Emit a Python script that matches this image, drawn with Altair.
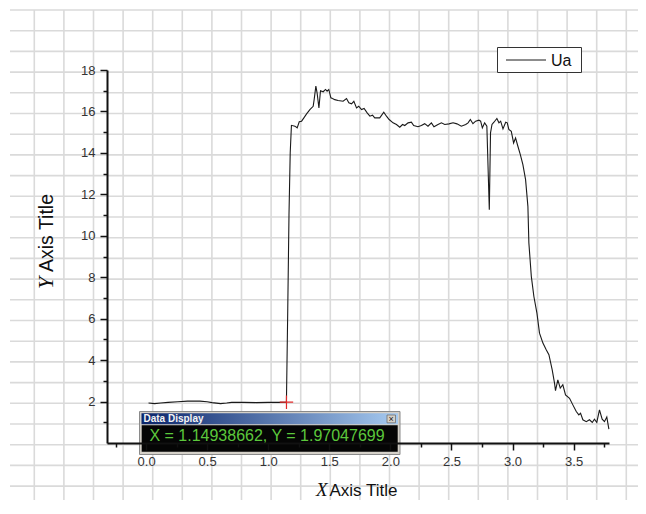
import altair as alt
import pandas as pd

# ---------------- data ----------------
series_name = "Ua"
x_vals = [0.02, 0.07, 0.12, 0.18, 0.26, 0.34, 0.44, 0.50, 0.54, 0.61, 0.66, 0.70, 0.80, 0.90, 1.00, 1.10, 1.149,
          1.16, 1.17, 1.18, 1.19,
          1.218, 1.237, 1.254, 1.273, 1.292, 1.314, 1.341, 1.368, 1.376, 1.39, 1.40, 1.415, 1.428, 1.45, 1.469,
          1.482, 1.496, 1.513, 1.526, 1.545, 1.572, 1.613, 1.641, 1.66, 1.682, 1.701, 1.723, 1.741, 1.764, 1.785,
          1.81, 1.832, 1.854, 1.872, 1.913, 1.946, 1.968, 1.99, 2.022, 2.05, 2.077, 2.10, 2.118, 2.145, 2.172,
          2.191, 2.226, 2.254, 2.281, 2.308, 2.336, 2.357, 2.39, 2.418, 2.445, 2.48, 2.513, 2.545, 2.581, 2.617,
          2.636, 2.655, 2.676, 2.698, 2.725, 2.739, 2.753, 2.772, 2.79, 2.81, 2.82, 2.832, 2.848, 2.872, 2.889,
          2.903, 2.922, 2.944, 2.957, 2.97, 2.99, 3.009, 3.025, 3.044, 3.064, 3.085, 3.107, 3.126, 3.134, 3.154,
          3.175, 3.2, 3.221, 3.249, 3.276, 3.298, 3.325, 3.344, 3.352, 3.371, 3.391, 3.412, 3.434, 3.467, 3.494,
          3.522, 3.543, 3.557, 3.576, 3.604, 3.63, 3.653, 3.671, 3.69, 3.712, 3.734, 3.753, 3.772, 3.789]
y_vals = [1.93, 1.90, 1.93, 1.96, 1.99, 2.02, 2.02, 1.99, 1.95, 1.90, 1.93, 1.96, 1.96, 1.95, 1.96, 1.96, 1.97,
          6.5, 11.0, 14.0, 15.33,
          15.29, 15.21, 15.5, 15.53, 15.69, 15.88, 16.09, 16.25, 16.57, 17.22, 16.9, 16.17, 17.0, 16.95, 17.06,
          16.98, 17.06, 16.66, 16.62, 16.57, 16.53, 16.49, 16.62, 16.42, 16.37, 16.49, 16.17, 16.25, 16.09, 16.14,
          15.93, 15.77, 15.82, 15.69, 15.69, 15.96, 15.77, 15.61, 15.45, 15.37, 15.24, 15.37, 15.32, 15.45, 15.48,
          15.32, 15.26, 15.32, 15.41, 15.29, 15.45, 15.26, 15.37, 15.45, 15.37, 15.4, 15.45, 15.4, 15.29, 15.37,
          15.45, 15.61, 15.41, 15.53, 15.58, 15.53, 15.21, 15.45, 15.29, 11.26, 14.97, 15.37, 15.48, 15.66, 15.45,
          15.53, 15.16, 15.48, 15.45, 15.13, 15.04, 14.48, 14.72, 14.32, 13.92, 13.43, 12.71, 11.42, 9.65, 8.04,
          7.07, 6.27, 5.30, 4.82, 4.50, 4.26, 3.53, 2.89, 2.53, 3.05, 2.65, 2.81, 2.32, 2.16, 1.84,
          1.52, 1.36, 1.44, 1.12, 1.03, 1.12, 0.99, 1.15, 0.99, 1.60, 1.15, 1.03, 1.25, 0.67]
cursor_x = 1.14938662
cursor_y = 1.97047699
x_tick_values = [-0.25, 0.0, 0.25, 0.5, 0.75, 1.0, 1.25, 1.5, 1.75, 2.0, 2.25, 2.5, 2.75, 3.0, 3.25, 3.5, 3.75]
y_tick_values = [1, 2, 3, 4, 5, 6, 7, 8, 9, 10, 11, 12, 13, 14, 15, 16, 17, 18]
x_title_parts = ["X", "Axis Title"]
y_title_parts = ["Y", "Axis Title"]
display_title = "Data Display"

df = pd.DataFrame({"x": x_vals, "y": y_vals, "series": series_name})

# ---------------- layout ----------------
W, H = 502, 373
PL, PT, PR, PB = 99, 62, 29, 57
OX, OY = 8 + PL, 8 + PT          # page position of the plot origin
SANS = "Liberation Sans"
SERIF = "Liberation Serif"

x_scale = alt.Scale(domain=[-0.32, 3.79], nice=False, zero=False)
y_scale = alt.Scale(domain=[0, 18], nice=False, zero=False)

x_axis = alt.Axis(
    values=x_tick_values, title=None, grid=False, zindex=1,
    labelExpr="abs(datum.value % 0.5) < 1e-9 ? format(datum.value, '.1f') : ''",
    domainColor="#111111", domainWidth=2, tickColor="#111111", tickWidth=1.5,
    tickSize={"condition": {"test": "abs(datum.value % 0.5) < 1e-9", "value": 7}, "value": 4},
    labelFont=SANS, labelFontSize=13, labelColor="#333333", labelPadding=5,
    labelOverlap=False, labelFlush=False,
)
y_axis = alt.Axis(
    values=y_tick_values, title=None, grid=False, zindex=1,
    labelExpr="datum.value % 2 === 0 ? datum.label : ''",
    domainColor="#111111", domainWidth=2, tickColor="#111111", tickWidth=1.5,
    tickSize={"condition": {"test": "datum.value % 2 === 0", "value": 7}, "value": 4},
    labelFont=SANS, labelFontSize=13, labelColor="#333333", labelPadding=5,
    labelOverlap=False, labelFlush=False,
)

one = alt.Data(values=[{}])

# page grid in the background (decoration, pixel positions)
vgrid = pd.DataFrame({"px": [34.3 + 29.6 * k - OX for k in range(21)]})
hgrid = pd.DataFrame({"py": [10 + 20.7 * k - OY for k in range(25)]})
grid_v = alt.Chart(vgrid).mark_rule(color="#dadada", strokeWidth=1.6).encode(
    x=alt.X("px:Q", scale=None, axis=None), y=alt.value(10 - OY), y2=alt.value(520 - OY))
grid_h = alt.Chart(hgrid).mark_rule(color="#dadada", strokeWidth=1.6).encode(
    y=alt.Y("py:Q", scale=None, axis=None), x=alt.value(10 - OX), x2=alt.value(650 - OX))

line = alt.Chart(df).mark_line(color="#1a1a1a", strokeWidth=1.1).encode(
    x=alt.X("x:Q", scale=x_scale, axis=x_axis),
    y=alt.Y("y:Q", scale=y_scale, axis=y_axis),
)

cursor = alt.Chart(pd.DataFrame({"x": [cursor_x], "y": [cursor_y]})).mark_point(
    shape="M-1,0L1,0M0,-1L0,1", size=180, stroke="#e02828", strokeWidth=1.2, filled=False, opacity=1
).encode(x=alt.X("x:Q", scale=x_scale, axis=x_axis), y=alt.Y("y:Q", scale=y_scale, axis=y_axis))

# Data Display window
def px(v):
    return alt.value(v - OX)

def py(v):
    return alt.value(v - OY)

frame = alt.Chart(one).mark_rect(fill="#d4d0c8", stroke="#8a8a8a", strokeWidth=1).encode(
    x=px(139.5), x2=px(400), y=py(411.5), y2=py(454.5))
titlebar = alt.Chart(one).mark_rect(
    color=alt.Gradient(gradient="linear", x1=0, x2=1, y1=0, y2=0,
                       stops=[alt.GradientStop(color="#0a246a", offset=0),
                              alt.GradientStop(color="#a6caf0", offset=1)])
).encode(x=px(141.5), x2=px(398), y=py(413.3), y2=py(424.3))
title_txt = alt.Chart(one).mark_text(
    text=display_title, font=SANS, fontSize=10, fontWeight="bold", color="#f4f4f4",
    align="left", baseline="middle").encode(x=px(143.5), y=py(419))
close_btn = alt.Chart(one).mark_rect(fill="#d4d0c8", stroke="#707070", strokeWidth=0.8).encode(
    x=px(387), x2=px(395.5), y=py(415), y2=py(422.8))
close_txt = alt.Chart(one).mark_text(
    text="×", font=SANS, fontSize=9, color="#222222", align="center", baseline="middle").encode(
    x=px(391.2), y=py(419))
black = alt.Chart(one).mark_rect(fill="#050505").encode(
    x=px(141.7), x2=px(397.7), y=py(425.2), y2=py(451.8))
readout = alt.Chart(one).mark_text(
    text=f"X = {cursor_x:.8f}, Y = {cursor_y:.8f}", font=SANS, fontSize=16, color="#5cc83c",
    align="center", baseline="middle").encode(x=px(267), y=py(436))

# legend
leg_box = alt.Chart(one).mark_rect(fill="#ffffff", stroke="#333333", strokeWidth=1).encode(
    x=px(497.5), x2=px(581.5), y=py(47.5), y2=py(72.5))
leg_line = alt.Chart(one).mark_rule(color="#1a1a1a", strokeWidth=1).encode(
    x=px(506), x2=px(546), y=py(60))
leg_txt = alt.Chart(one).mark_text(
    text=series_name, font=SANS, fontSize=16, color="#111111", align="left", baseline="middle").encode(
    x=px(551), y=py(60.5))

# axis titles (italic serif letter + sans words)
xt1 = alt.Chart(one).mark_text(text=x_title_parts[0], font=SERIF, fontStyle="italic", fontSize=19,
                                color="#111111", align="right", baseline="alphabetic").encode(
    x=px(327.5), y=py(496))
xt2 = alt.Chart(one).mark_text(text=x_title_parts[1], font=SANS, fontSize=17,
                                color="#111111", align="left", baseline="alphabetic").encode(
    x=px(329.5), y=py(496))
yt1 = alt.Chart(one).mark_text(text=y_title_parts[0], font=SERIF, fontStyle="italic", fontSize=22,
                                angle=270, color="#111111", align="left", baseline="alphabetic").encode(
    x=px(52.5), y=py(289))
yt2 = alt.Chart(one).mark_text(text=y_title_parts[1], font=SANS, fontSize=19.5,
                                angle=270, color="#111111", align="left", baseline="alphabetic").encode(
    x=px(52.5), y=py(272))

chart = alt.layer(
    grid_v, grid_h, line, cursor, frame, titlebar, title_txt, close_btn, close_txt, black, readout,
    leg_box, leg_line, leg_txt, xt1, xt2, yt1, yt2
).properties(
    width=W, height=H,
    autosize=alt.AutoSizeParams(type="none"),
    padding={"left": PL, "top": PT, "right": PR, "bottom": PB},
    background="#ffffff",
).configure_view(stroke=None)

chart.save("out.html", embed_options={"renderer": "svg", "actions": False})
